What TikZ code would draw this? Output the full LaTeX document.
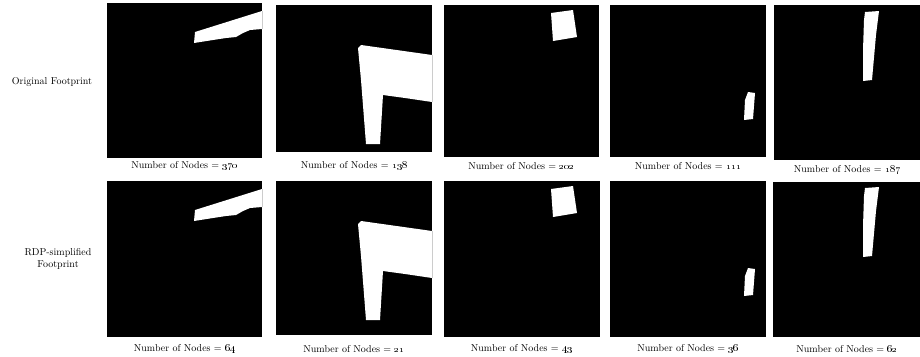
\documentclass[tikz,border=0pt]{standalone}
\usetikzlibrary{calc}
\usetikzlibrary{positioning}

\begin{document}
\begin{tikzpicture}[x=1pt, y=-1pt]

    % ---- Notes ----
    % one pixel of the figure = 1pt, y grows downwards
    % row 2 = same footprints after RDP simplification

    % Constants
    \pgfmathsetmacro{\rowone}{5}
    \pgfmathsetmacro{\rowtwo}{181}

    \useasboundingbox (0,0) rectangle (920,356);

    % Footprint outlines (panel coordinates)
    \newcommand{\footA}{(88,29) -- (155,8) -- (155,26) -- (143,27) -- (136,30) -- (129,34) -- (119,35) -- (106,37) -- (87,40) -- cycle}
    \newcommand{\footB}{(82,43) -- (85,40) -- (156,50) -- (156,97) -- (129,93) -- (107,90) -- (104,139) -- (90,139) -- (85,75) -- cycle}
    \newcommand{\footC}{(107,8) -- (129,5) -- (133,32) -- (109,36) -- cycle}
    \newcommand{\footD}{(138,87) -- (145,88) -- (143,114) -- (134,115) -- (135,95) -- cycle}
    \newcommand{\footE}{(91,7) -- (105,6) -- (102,30) -- (98,75) -- (89,76) -- (89,45) -- (90,15) -- cycle}

    % Row labels
    \node (orig) at (52,82) {Original Footprint};
    \node [align=center] (rdp) at (58,259) {RDP-simplified\\Footprint};

    % ---- Original footprints ----
    \fill (107,3) rectangle ++(155,155);
    \fill (276,5) rectangle ++(156,147);
    \fill (444,5) rectangle ++(155,152);
    \fill (610,5) rectangle ++(156,152);
    \fill (774,5) rectangle ++(146,155);

    \begin{scope}[shift={(107,3)}]
        \fill [white] \footA;
        \draw [gray!40, line width=1pt] (155,8) -- (155,26);
    \end{scope}
    \begin{scope}[shift={(276,5)}]
        \fill [white] \footB;
        \draw [gray!40, line width=1pt] (156,50) -- (156,97);
    \end{scope}
    \fill [white, shift={(444,5)}] \footC;
    \fill [white, shift={(610,5)}] \footD;
    \fill [white, shift={(774,5)}] \footE;

    \node (o1) at (184.5,166) {Number of Nodes = \oldstylenums{370}};
    \node (o2) at (354,166) {Number of Nodes = \oldstylenums{138}};
    \node (o3) at (521.5,166) {Number of Nodes = \oldstylenums{202}};
    \node (o4) at (688,166) {Number of Nodes = \oldstylenums{111}};
    \node (o5) at (847,170) {Number of Nodes = \oldstylenums{187}};

    % ---- RDP-simplified footprints ----
    \fill (107,181) rectangle ++(155,156);
    \fill (276,181) rectangle ++(156,154);
    \fill (444,181) rectangle ++(156,156);
    \fill (610,181) rectangle ++(156,156);
    \fill (773,182) rectangle ++(147,155);

    \begin{scope}[shift={(107,181)}]
        \fill [white] \footA;
        \draw [gray!40, line width=1pt] (155,8) -- (155,26);
    \end{scope}
    \begin{scope}[shift={(276,181)}]
        \fill [white] \footB;
        \draw [gray!40, line width=1pt] (156,50) -- (156,97);
    \end{scope}
    \fill [white, shift={(444,181)}] \footC;
    \fill [white, shift={(610,181)}] \footD;
    \fill [white, shift={(774,181)}] \footE;

    \node (s1) at (184.5,349) {Number of Nodes = \oldstylenums{64}};
    \node (s2) at (354,349) {Number of Nodes = \oldstylenums{21}};
    \node (s3) at (521.5,349) {Number of Nodes = \oldstylenums{43}};
    \node (s4) at (688,349) {Number of Nodes = \oldstylenums{36}};
    \node (s5) at (847,349) {Number of Nodes = \oldstylenums{62}};

\end{tikzpicture}
\end{document}
